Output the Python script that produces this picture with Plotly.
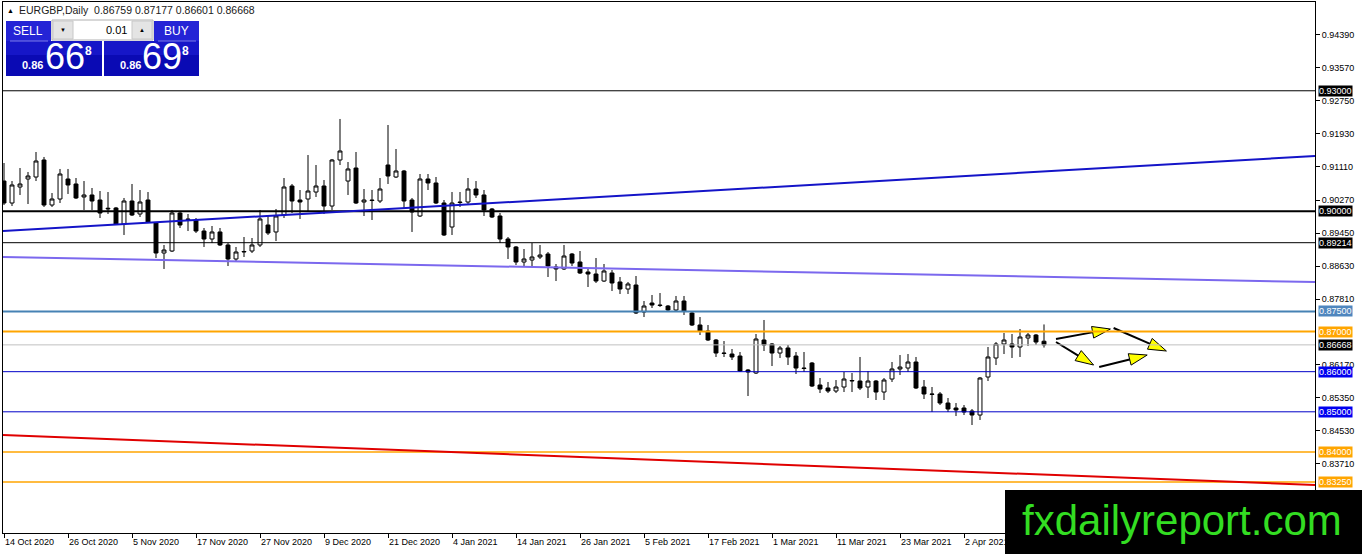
import plotly.graph_objects as go

# EURGBP daily candles, 14 Oct 2020 .. 16 Apr 2021
opens = [
    0.90751, 0.90203, 0.90602, 0.90801, 0.90851, 0.91275, 0.90153, 0.90303, 0.90801, 0.90677,
    0.90353, 0.90403, 0.90278, 0.90054, 0.90079, 0.89680, 0.90253, 0.89929, 0.90278, 0.89705,
    0.88957, 0.89007, 0.89954, 0.89805, 0.89780, 0.89505, 0.89306, 0.89481, 0.89157, 0.88808,
    0.88982, 0.89007, 0.89157, 0.89655, 0.89481, 0.89904, 0.90627, 0.90278, 0.90303, 0.90477,
    0.90627, 0.90128, 0.91275, 0.90751, 0.91075, 0.90228, 0.90278, 0.90253, 0.91150, 0.90851,
    0.91001, 0.90278, 0.89879, 0.90801, 0.90702, 0.90203, 0.89605, 0.90228, 0.90228, 0.90552,
    0.90403, 0.90054, 0.89879, 0.89306, 0.89107, 0.88733, 0.88783, 0.88858, 0.88932, 0.88608,
    0.88559, 0.88932, 0.88733, 0.88484, 0.88434, 0.88259, 0.88459, 0.88235, 0.88060, 0.88160,
    0.87487, 0.87711, 0.87661, 0.87636, 0.87537, 0.87761, 0.87462, 0.87163, 0.87013, 0.86789,
    0.86465, 0.86440, 0.86390, 0.86042, 0.85967, 0.86789, 0.86690, 0.86465, 0.86590, 0.86390,
    0.86091, 0.86216, 0.85668, 0.85593, 0.85518, 0.85618, 0.85767, 0.85767, 0.85618, 0.85767,
    0.85493, 0.85817, 0.86067, 0.86091, 0.86241, 0.85618, 0.85444, 0.85444, 0.85219, 0.85095,
    0.85095, 0.85020, 0.84920, 0.85867, 0.86341, 0.86690, 0.86690, 0.86615, 0.86839, 0.86914,
    0.86759]
highs = [
    0.91200, 0.90751, 0.91075, 0.90976, 0.91474, 0.91350, 0.90452, 0.91051, 0.91051, 0.90826,
    0.90751, 0.90577, 0.90502, 0.90477, 0.90104, 0.90328, 0.90677, 0.90527, 0.90477, 0.89730,
    0.89157, 0.90029, 0.89979, 0.89929, 0.89829, 0.89580, 0.89630, 0.89580, 0.89206, 0.89107,
    0.89356, 0.89331, 0.90029, 0.89904, 0.90054, 0.90826, 0.90677, 0.90527, 0.91399, 0.91150,
    0.90776, 0.91300, 0.92297, 0.91225, 0.91474, 0.90552, 0.90527, 0.90826, 0.92147, 0.91549,
    0.91026, 0.90328, 0.90926, 0.90926, 0.90851, 0.90278, 0.90477, 0.90477, 0.90826, 0.90751,
    0.90527, 0.90079, 0.89954, 0.89356, 0.89132, 0.89057, 0.89206, 0.89157, 0.88982, 0.88683,
    0.89157, 0.88957, 0.89007, 0.88559, 0.88833, 0.88683, 0.88534, 0.88359, 0.88235, 0.88384,
    0.87761, 0.87911, 0.87960, 0.87661, 0.87886, 0.87886, 0.87487, 0.87362, 0.87163, 0.86814,
    0.86764, 0.86565, 0.86490, 0.86067, 0.86939, 0.87288, 0.86714, 0.86640, 0.86665, 0.86490,
    0.86490, 0.86241, 0.85842, 0.85743, 0.85792, 0.85992, 0.85967, 0.86366, 0.86017, 0.85792,
    0.85842, 0.86241, 0.86415, 0.86440, 0.86366, 0.85792, 0.85618, 0.85493, 0.85344, 0.85219,
    0.85169, 0.85070, 0.85867, 0.86615, 0.86739, 0.86964, 0.86939, 0.87063, 0.86964, 0.86939,
    0.87177]
lows = [
    0.90153, 0.90128, 0.90403, 0.90178, 0.90751, 0.90104, 0.90104, 0.90203, 0.90428, 0.90303,
    0.90029, 0.90029, 0.89829, 0.89929, 0.89655, 0.89406, 0.89879, 0.89854, 0.89705, 0.88833,
    0.88559, 0.88982, 0.89580, 0.89505, 0.89456, 0.89107, 0.89206, 0.89132, 0.88633, 0.88733,
    0.88858, 0.88957, 0.89107, 0.89406, 0.89256, 0.89829, 0.89954, 0.89805, 0.89979, 0.90353,
    0.89929, 0.90029, 0.91150, 0.90403, 0.90178, 0.89879, 0.89780, 0.90203, 0.90677, 0.90826,
    0.90054, 0.89481, 0.89854, 0.90527, 0.90178, 0.89381, 0.89406, 0.90104, 0.90153, 0.90328,
    0.89879, 0.89829, 0.89206, 0.88808, 0.88658, 0.88608, 0.88608, 0.88808, 0.88359, 0.88259,
    0.88534, 0.88633, 0.88434, 0.88110, 0.88210, 0.88235, 0.88010, 0.87936, 0.87936, 0.87437,
    0.87362, 0.87587, 0.87612, 0.87512, 0.87512, 0.87412, 0.87138, 0.86914, 0.86764, 0.86366,
    0.86366, 0.86291, 0.85992, 0.85394, 0.85942, 0.86515, 0.86141, 0.86341, 0.86166, 0.85942,
    0.85992, 0.85618, 0.85468, 0.85468, 0.85468, 0.85493, 0.85493, 0.85543, 0.85344, 0.85294,
    0.85294, 0.85743, 0.85917, 0.85992, 0.85568, 0.85319, 0.84995, 0.85169, 0.84995, 0.84895,
    0.84920, 0.84671, 0.84796, 0.85767, 0.86166, 0.86440, 0.86341, 0.86366, 0.86640, 0.86665,
    0.86601]
closes = [
    0.90203, 0.90652, 0.90677, 0.90876, 0.91250, 0.90153, 0.90303, 0.90926, 0.90652, 0.90328,
    0.90403, 0.90253, 0.89954, 0.90070, 0.89680, 0.90253, 0.89904, 0.90228, 0.89730, 0.88957,
    0.89032, 0.89954, 0.89655, 0.89790, 0.89505, 0.89306, 0.89481, 0.89157, 0.88808, 0.88982,
    0.88995, 0.89157, 0.89805, 0.89456, 0.89879, 0.90602, 0.90253, 0.90228, 0.90502, 0.90627,
    0.90128, 0.91275, 0.91499, 0.91051, 0.90203, 0.90278, 0.90265, 0.90552, 0.90876, 0.91001,
    0.90253, 0.89979, 0.90801, 0.90702, 0.90203, 0.89406, 0.90203, 0.90215, 0.90552, 0.90403,
    0.90029, 0.89854, 0.89306, 0.89107, 0.88733, 0.88808, 0.88858, 0.88907, 0.88633, 0.88559,
    0.88882, 0.88708, 0.88459, 0.88434, 0.88259, 0.88509, 0.88210, 0.88060, 0.88185, 0.87462,
    0.87636, 0.87661, 0.87650, 0.87537, 0.87761, 0.87512, 0.87163, 0.87013, 0.86789, 0.86465,
    0.86455, 0.86366, 0.86017, 0.85992, 0.86814, 0.86665, 0.86465, 0.86590, 0.86366, 0.86091,
    0.86080, 0.85643, 0.85568, 0.85518, 0.85618, 0.85817, 0.85780, 0.85593, 0.85767, 0.85493,
    0.85792, 0.86067, 0.86116, 0.86241, 0.85593, 0.85444, 0.85435, 0.85219, 0.85070, 0.85045,
    0.84995, 0.84920, 0.85842, 0.86366, 0.86690, 0.86789, 0.86615, 0.86864, 0.86914, 0.86739,
    0.86668]

date_labels = ["14 Oct 2020", "26 Oct 2020", "5 Nov 2020", "17 Nov 2020", "27 Nov 2020",
               "9 Dec 2020", "21 Dec 2020", "4 Jan 2021", "14 Jan 2021", "26 Jan 2021",
               "5 Feb 2021", "17 Feb 2021", "1 Mar 2021", "11 Mar 2021", "23 Mar 2021",
               "2 Apr 2021"]
date_bars = [0, 8, 16, 24, 32, 40, 48, 56, 64, 72, 80, 88, 96, 104, 112, 120]

price_ticks = [0.94390, 0.93570, 0.92750, 0.91930, 0.91110, 0.90270, 0.89450,
               0.88630, 0.87810, 0.86170, 0.85350, 0.84530, 0.83710]

# horizontal levels: price, line colour, width, label background
levels = [
    (0.93000, "black", 1, "black"),
    (0.90000, "black", 2, "black"),
    (0.89214, "black", 1, "black"),
    (0.87500, "#4682B4", 2, "#4F86BE"),
    (0.87000, "#FFA500", 2, "#FFA500"),
    (0.86668, "#C0C0C0", 1, "black"),
    (0.86000, "#0000C8", 1, "#0000F0"),
    (0.85000, "#0000C8", 1, "#0000F0"),
    (0.84000, "#FFA500", 1.5, "#FFA500"),
    (0.83250, "#FFA500", 1.5, "#FFA500"),
]

# trend lines: (bar0, price0, bar1, price1, colour)
trends = [
    (-0.125, 0.89505, 163.875, 0.91374, "#1414C8"),
    (-0.125, 0.88858, 163.875, 0.88235, "#7B68EE"),
    (-0.125, 0.84422, 163.875, 0.83176, "#E00000"),
]

# drawn arrows: (bar0, price0, bar1, price1)
arrows = [
    (131.5, 0.86814, 138.3, 0.87063),
    (138.7, 0.87088, 145.3, 0.86515),
    (131.5, 0.86739, 136.2, 0.86166),
    (136.9, 0.86116, 142.9, 0.86415),
]

W, H = 1362, 554
L, R, T, B = 3, 47, 2, 21
FONT = "Liberation Sans, Arial, sans-serif"


def fx(px):
    return (px - L) / (W - L - R)


def fy(py):
    return (H - B - py) / (H - T - B)


fig = go.Figure()

fig.add_trace(go.Candlestick(
    x=list(range(len(opens))), open=opens, high=highs, low=lows, close=closes,
    increasing=dict(fillcolor="white", line=dict(color="black", width=1)),
    decreasing=dict(fillcolor="black", line=dict(color="black", width=1)),
    whiskerwidth=0, hoverinfo="skip", showlegend=False,
))

shapes = []
annotations = []

for price, color, width, lbl in levels:
    shapes.append(dict(type="line", xref="paper", x0=0, x1=1, yref="y", y0=price, y1=price,
                       line=dict(color=color, width=width), layer="above"))
    annotations.append(dict(xref="paper", x=fx(1318), yref="y", y=price, xanchor="left",
                            yanchor="middle", text=f"{price:.5f}", showarrow=False,
                            bgcolor=lbl, borderpad=0,
                            font=dict(family=FONT, size=9, color="white")))

for x0, y0, x1, y1, color in trends:
    shapes.append(dict(type="line", xref="x", x0=x0, x1=x1, yref="y", y0=y0, y1=y1,
                       line=dict(color=color, width=2), layer="above"))

for x0, y0, x1, y1 in arrows:
    fig.add_trace(go.Scatter(
        x=[x0, x1], y=[y0, y1], mode="lines+markers",
        line=dict(color="black", width=2),
        marker=dict(symbol="arrow", size=[1, 19], opacity=[0, 1], angleref="previous",
                    color="#FFFF00", line=dict(color="black", width=1)),
        hoverinfo="skip", showlegend=False, cliponaxis=False,
    ))

for lbl, bar in zip(date_labels, date_bars):
    annotations.append(dict(xref="x", x=bar - 0.1, yref="paper", y=0, xanchor="left",
                            yanchor="top", yshift=-2, text=lbl, showarrow=False,
                            font=dict(family=FONT, size=9, color="black")))

# header
annotations.append(dict(xref="paper", x=fx(5), yref="paper", y=fy(10), xanchor="left",
                        yanchor="middle", text="▲", showarrow=False,
                        font=dict(family=FONT, size=7, color="black")))
annotations.append(dict(xref="paper", x=fx(17), yref="paper", y=fy(10), xanchor="left",
                        yanchor="middle",
                        text="EURGBP,Daily&nbsp; 0.86759 0.87177 0.86601 0.86668",
                        showarrow=False, font=dict(family=FONT, size=10.5, color="#202020")))


def rect(x0, y0, x1, y1, fill, line=None):
    shapes.append(dict(type="rect", xref="paper", yref="paper", x0=fx(x0), x1=fx(x1),
                       y0=fy(y1), y1=fy(y0), fillcolor=fill, layer="above",
                       line=dict(color=line or fill, width=1 if line else 0)))


def text(x, y, s, size, color="white", bold=False, anchor="center", family=FONT):
    if bold:
        s = f"<b>{s}</b>"
    annotations.append(dict(xref="paper", x=fx(x), yref="paper", y=fy(y), xanchor=anchor,
                            yanchor="middle", text=s, showarrow=False,
                            font=dict(family=family, size=size, color=color)))


# one-click trading panel
for bx0, bx1 in [(6, 102), (104, 199)]:
    rect(bx0, 41, bx1, 76, "#0A0AB4")
    rect(bx0, 41, bx1, 55, "#1616C8")
rect(6, 21, 51, 41, "#2424D6")
rect(154, 21, 199, 41, "#2424D6")
shapes.append(dict(type="line", xref="paper", yref="paper", x0=fx(10), x1=fx(48),
                   y0=fy(41), y1=fy(41), line=dict(color="#7A7AE8", width=1), layer="above"))
shapes.append(dict(type="line", xref="paper", yref="paper", x0=fx(158), x1=fx(196),
                   y0=fy(41), y1=fy(41), line=dict(color="#7A7AE8", width=1), layer="above"))
rect(52, 20, 153, 40, "white", "#B0B0B0")
rect(53, 21, 73, 39, "#E4E4E4", "#C8C8C8")
rect(132, 21, 152, 39, "#E4E4E4", "#C8C8C8")
text(63, 30, "▼", 6, color="black")
text(142, 30, "▲", 6, color="black")
text(129, 30, "0.01", 11, color="black", anchor="right")
text(28, 31, "SELL", 12)
text(176, 31, "BUY", 12)
text(32, 65, "0.86", 11, bold=True)
text(65, 57, "66", 36)
text(88, 51, "8", 12, bold=True)
text(130, 65, "0.86", 11, bold=True)
text(162, 57, "69", 36)
text(185, 51, "8", 12, bold=True)

# watermark
rect(1005, 490, 1362, 554, "black")
text(1182, 520, "fxdailyreport.com", 42, color="#33DD22")

fig.update_layout(
    width=W, height=H,
    margin=dict(l=L, r=R, t=T, b=B),
    paper_bgcolor="white", plot_bgcolor="white",
    shapes=shapes, annotations=annotations,
    showlegend=False, hovermode=False,
    xaxis=dict(range=[-0.125, 163.875], showgrid=False, zeroline=False,
               rangeslider=dict(visible=False), tickmode="array", tickvals=date_bars,
               ticktext=[""] * len(date_bars), ticks="outside", ticklen=4,
               tickcolor="black", showline=True, mirror=True, linecolor="black",
               linewidth=1, fixedrange=True),
    yaxis=dict(range=[0.81980, 0.95212], side="right", showgrid=False, zeroline=False,
               tickmode="array", tickvals=price_ticks,
               ticktext=[f"{p:.5f}" for p in price_ticks], ticks="outside", ticklen=4,
               tickcolor="black", tickfont=dict(family=FONT, size=9, color="black"),
               showline=True, mirror=True, linecolor="black", linewidth=1,
               fixedrange=True),
)

fig.write_html("out.html", config=dict(displayModeBar=False),
               post_script="document.body.style.margin='0';")
